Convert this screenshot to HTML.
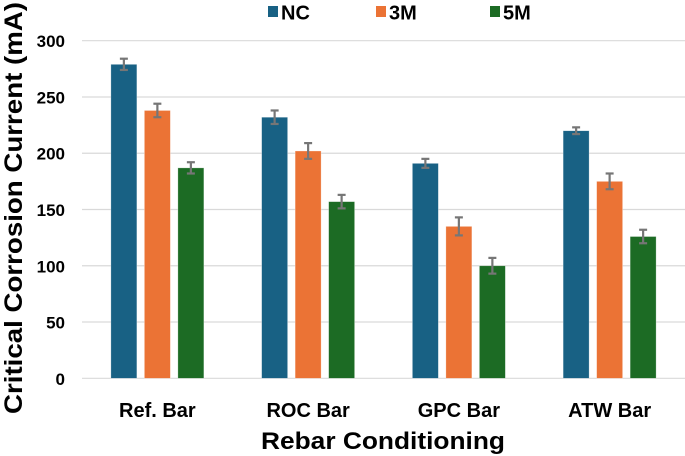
<!DOCTYPE html>
<html><head><meta charset="utf-8"><style>
html,body{margin:0;padding:0;background:#fff;}
svg{display:block;font-family:"Liberation Sans",Arial,sans-serif;}
</style></head><body>
<svg id="chart" width="685" height="456" viewBox="0 0 685 456">
<g id="grid"></g>
<g id="yticks"></g>
<g id="bars"></g>
<g id="xlabels"></g>
<g id="legend"></g>
<text x="0" y="0" transform="translate(22,208) rotate(-90) scale(1,1.1)" text-anchor="middle" font-size="23" font-weight="bold" fill="#000" textLength="412" lengthAdjust="spacingAndGlyphs">Critical Corrosion Current  (mA)</text>
<text x="383" y="449" text-anchor="middle" font-size="24" font-weight="bold" fill="#000" textLength="244" lengthAdjust="spacingAndGlyphs">Rebar Conditioning</text>
</svg>
<script>
const categories = ["Ref. Bar","ROC Bar","GPC Bar","ATW Bar"];
const seriesNames = ["NC","3M","5M"];
const seriesColors = ["#186184","#EB7335","#1C6B24"];
const ncValues = [279,232,191,220];
const m3Values = [238,202,135,175];
const m5Values = [187,157,100,126];
const ncErr = [5,6,4,3];
const m3Err = [6,7,8,7];
const m5Err = [5,6,7,6];
const yTicks = [0,50,100,150,200,250,300];

const NS="http://www.w3.org/2000/svg";
const X0=82, X1=685, Y0=378.3, Y300=40.7;
const yScale=v=>Y0-(v/300)*(Y0-Y300);
const groupW=(X1-X0)/categories.length;
const barW=26, barStep=33.5;
function mk(tag,attrs,parent){const e=document.createElementNS(NS,tag);for(const k in attrs)e.setAttribute(k,attrs[k]);parent.appendChild(e);return e;}
const grid=document.getElementById('grid'), yt=document.getElementById('yticks');
yTicks.forEach(t=>{
  const l=mk('line',{x1:X0,x2:X1,y1:yScale(t),y2:yScale(t),stroke:'#d9d9d9','stroke-width':1.2},grid);
  
  
  const tx=mk('text',{x:65,y:yScale(t)+6.5,'text-anchor':'end','font-size':17,'font-weight':'bold',fill:'#000'},yt);
  tx.textContent=t;
  
  
});
const series=[ncValues,m3Values,m5Values], errs=[ncErr,m3Err,m5Err];
const bars=document.getElementById('bars'), xl=document.getElementById('xlabels');
categories.forEach((c,i)=>{
  const cx=X0+groupW*(i+0.5);
  series.forEach((s,j)=>{
    const bx=cx+(j-1)*barStep-barW/2;
    const r=mk('rect',{x:bx,y:yScale(s[i]),width:barW,height:Y0-yScale(s[i]),fill:seriesColors[j],stroke:'#fff','stroke-opacity':0.5,'stroke-width':0.6},bars);
    
    
    const ex=bx+barW/2, e=errs[j][i];
    const g=mk('g',{stroke:'#767676','stroke-width':2.2},bars);
    
    
    mk('line',{x1:ex,x2:ex,y1:yScale(s[i]+e),y2:yScale(s[i]-e)},g);
    mk('line',{x1:ex-4,x2:ex+4,y1:yScale(s[i]+e),y2:yScale(s[i]+e)},g);
    mk('line',{x1:ex-4,x2:ex+4,y1:yScale(s[i]-e),y2:yScale(s[i]-e)},g);
  });
  const t=mk('text',{x:cx,y:417,'text-anchor':'middle','font-size':20,'font-weight':'bold',fill:'#000'},xl);
  t.textContent=c;
  
  
});
const lg=document.getElementById('legend');
const legX=[268,376,490];
seriesNames.forEach((n,j)=>{
  const g=mk('g',{},lg);
  
  
  mk('rect',{x:legX[j],y:6,width:10,height:11,fill:seriesColors[j]},g);
  const t=mk('text',{x:legX[j]+13,y:19.5,'font-size':20,'font-weight':'bold',fill:'#000'},g);
  t.textContent=n;
});
</script>
</body></html>
